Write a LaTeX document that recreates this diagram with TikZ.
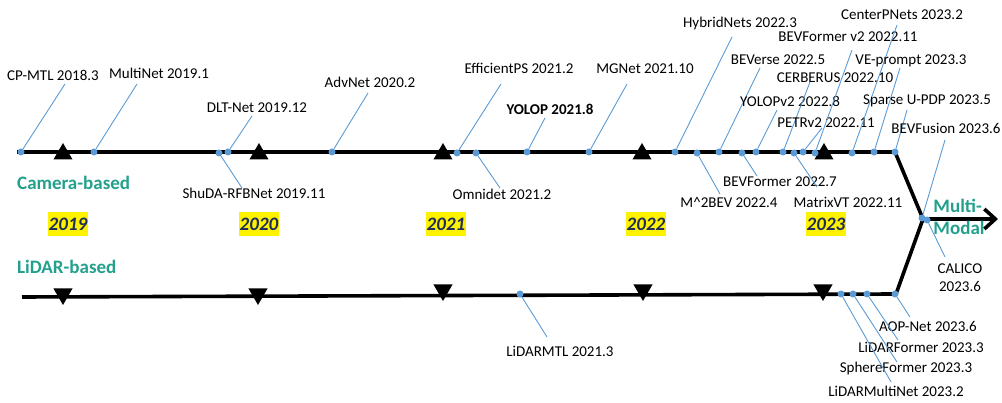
\documentclass[tikz,border=0pt]{standalone}
\usepackage{fontspec}
\setmainfont{Carlito}
\usetikzlibrary{shapes.geometric,arrows.meta}
\definecolor{dotblue}{RGB}{91,155,213}
\definecolor{teal2}{RGB}{34,160,140}
\definecolor{navy2}{RGB}{31,45,90}
\tikzset{
  mainline/.style={line width=3.6pt, black, line join=round},
  conn/.style={draw=dotblue, line width=0.9pt},
  dot/.style={circle, fill=dotblue, inner sep=0pt, minimum size=7pt},
  lab/.style={anchor=base, yshift=-5pt, inner sep=0pt, font=\fontsize{15}{18}\selectfont},
  uptri/.style={regular polygon, regular polygon sides=3, fill=black, inner sep=0pt, minimum size=22pt},
  dntri/.style={uptri, regular polygon rotate=180},
  yearbox/.style={fill=yellow, text=navy2, inner xsep=1pt, inner ysep=0pt, minimum height=24pt, font=\fontsize{19}{19}\selectfont\bfseries\itshape},
  cat/.style={text=teal2, inner sep=0pt, font=\fontsize{19}{22}\selectfont\bfseries}
}
\newcommand\ev[5]{%
  \coordinate (e#1) at (#3);
  \node[dot] (d#1) at (#2) {};
  \draw[conn] (d#1) -- (e#1);
  \node[lab] (l#1) at (#4) {#5};
}
\begin{document}
\begin{tikzpicture}[x=1pt,y=-1pt]
\useasboundingbox (0,0) rectangle (1002,403);
% main timelines
\coordinate (tl) at (17,152);
\coordinate (tr) at (895,152);
\coordinate (J) at (923,219);
\coordinate (br) at (896,294);
\coordinate (bl) at (22,297);
\coordinate (ar) at (998,219);
\draw[mainline] (tl) -- (tr) -- (J) -- (br) -- (bl);
\draw[mainline, -{Straight Barb[length=11pt,width=20pt]}] (J) -- (ar);
% year markers
\node[uptri] (t19) at (63,154) {};
\node[uptri] (t20) at (259,154) {};
\node[uptri] (t21) at (443,154) {};
\node[uptri] (t22) at (642,154) {};
\node[uptri] (t23) at (824,154) {};
\node[dntri] (b19) at (63,294) {};
\node[dntri] (b20) at (258,294) {};
\node[dntri] (b21) at (443,290) {};
\node[dntri] (b22) at (643,290) {};
\node[dntri] (b23) at (823,290) {};
% year labels
\node[yearbox] (y19) at (68,224) {2019};
\node[yearbox] (y20) at (259,224) {2020};
\node[yearbox] (y21) at (446,224) {2021};
\node[yearbox] (y22) at (646,224) {2022};
\node[yearbox] (y23) at (826,224) {2023};
% categories
\node[cat, anchor=base west] (cam) at (17,189.5) {Camera-based};
\node[cat, anchor=base west] (lid) at (17,273.5) {LiDAR-based};
\node[cat, align=left] (mm) at (959,217) {Multi-\\Modal};
% camera-based methods
\ev{cpmtl}{21,152}{65,84}{53,76}{CP-MTL 2018.3}
\ev{multinet}{94,152}{137,84}{159,74}{MultiNet 2019.1}
\ev{dlt}{228,152}{252,116}{257,108}{DLT-Net 2019.12}
\ev{shuda}{219,153}{242,188}{254,194}{ShuDA-RFBNet 2019.11}
\ev{advnet}{332,152}{368,93}{370,83}{AdvNet 2020.2}
\ev{effps}{457,153}{501,84}{519,69}{EfficientPS 2021.2}
\ev{omni}{476,153}{500,188}{502,195}{Omnidet 2021.2}
\ev{yolop}{527,152}{545,118}{550,110}{\textbf{YOLOP 2021.8}}
\ev{mgnet}{589,152}{627,84}{645,69}{MGNet 2021.10}
\ev{hybrid}{675,152}{732,37}{740,23}{HybridNets 2022.3}
\ev{mtwobev}{697,153}{720,194}{729,203}{M\textasciicircum 2BEV 2022.4}
\ev{beverse}{719,152}{760,68}{778,60}{BEVerse 2022.5}
\ev{bevformer}{742,153}{757,176}{780,182}{BEVFormer 2022.7}
\ev{yolopv}{756,152}{777,110}{790,102}{YOLOPv2 2022.8}
\ev{cerberus}{783,152}{810,82}{835,78}{CERBERUS 2022.10}
\ev{petrv}{803,152}{822,128}{826,123}{PETRv2 2022.11}
\ev{matrixvt}{794,153}{817,187}{848,203}{MatrixVT 2022.11}
\ev{bevformerv}{815,153}{852,50}{848,37}{BEVFormer v2 2022.11}
\ev{centerp}{852,153}{897,25}{902,15}{CenterPNets 2023.2}
\ev{veprompt}{874,152}{900,68}{911,60}{VE-prompt 2023.3}
\ev{sparse}{895,152}{907,110}{927,100}{Sparse U-PDP 2023.5}
% multi-modal
\ev{bevfusion}{922,218}{945,140}{946,129}{BEVFusion 2023.6}
\coordinate (ecalico) at (945,257);
\node[dot] (dcalico) at (927,220) {};
\draw[conn] (dcalico) -- (ecalico);
\node[inner sep=0pt, align=center, font=\fontsize{15}{18}\selectfont] (lcalico) at (960,278) {CALICO\\2023.6};
% lidar-based methods
\ev{lidarmtl}{520,294}{547,337}{560,352}{LiDARMTL 2021.3}
\ev{aopnet}{895,294}{910,317}{928,327}{AOP-Net 2023.6}
\ev{lidarformer}{867,294}{898,340}{921,348}{LiDARFormer 2023.3}
\ev{sphere}{853,294}{897,362}{906,368}{SphereFormer 2023.3}
\ev{lidarmulti}{841,294}{891,382}{896,392}{LiDARMultiNet 2023.2}
\end{tikzpicture}
\end{document}
